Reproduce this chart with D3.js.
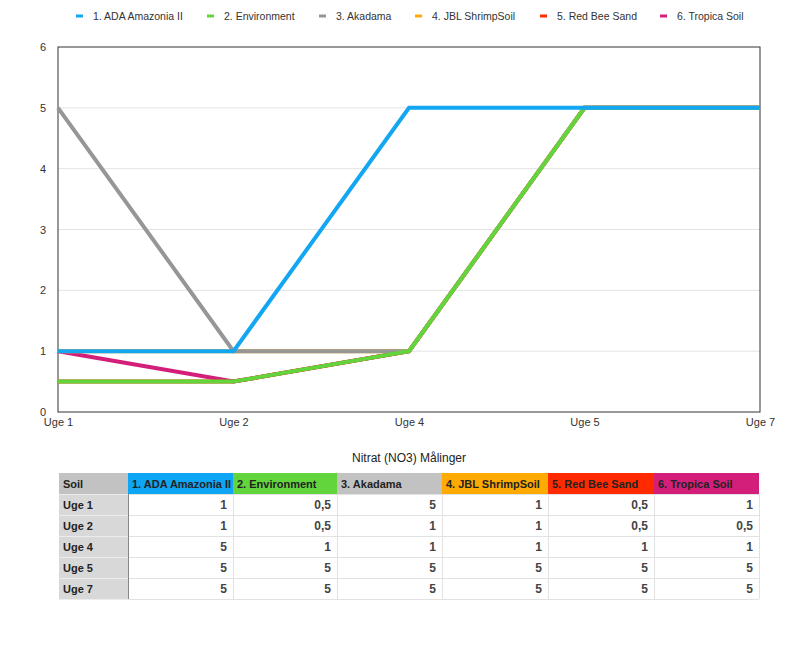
<!DOCTYPE html>
<html><head><meta charset="utf-8">
<script src="https://cdn.jsdelivr.net/npm/d3@7"></script>
<style>body{margin:0;background:#fff;font-family:"Liberation Sans",Arial,sans-serif}</style>
</head><body><svg id="c" width="800" height="651"></svg>
<script>
const categories = ["Uge 1","Uge 2","Uge 4","Uge 5","Uge 7"];
const seriesNames = ["1. ADA Amazonia II","2. Environment","3. Akadama","4. JBL ShrimpSoil","5. Red Bee Sand","6. Tropica Soil"];
const seriesColors = ["#13A6F2","#62D43C","#969696","#FFAA00","#FF2A00","#D41F7A"];
const ada = [1,1,5,5,5];
const environment = [0.5,0.5,1,5,5];
const akadama = [5,1,1,5,5];
const jbl = [1,1,1,5,5];
const redBee = [0.5,0.5,1,5,5];
const tropica = [1,0.5,1,5,5];
const yTicks = [0,1,2,3,4,5,6];
const tableTitle = "Nitrat (NO3) Målinger";
const allSeries = [ada, environment, akadama, jbl, redBee, tropica];

const svg = d3.select("#c");
const pL = 58, pR = 760, pT = 47, pB = 412;
const x = d3.scalePoint().domain(categories).range([pL, pR]).padding(0);
const y = d3.scaleLinear().domain([0,6]).range([pB, pT]);

// gridlines
svg.append("g").selectAll("line").data(yTicks.filter(d=>d>0 && d<6)).join("line")
  .attr("x1", pL).attr("x2", pR).attr("y1", d=>y(d)).attr("y2", d=>y(d))
  .attr("stroke", "#e3e3e3").attr("stroke-width", 1);

// frame
svg.append("rect").attr("x", pL).attr("y", pT).attr("width", pR-pL).attr("height", pB-pT)
  .attr("fill","none").attr("stroke","#333").attr("stroke-width",1);

// y axis labels
const ya = svg.append("g").attr("transform", `translate(${pL},0)`)
  .call(d3.axisLeft(y).tickValues(yTicks).tickSize(0).tickPadding(12).tickFormat(d3.format("d")));
ya.select(".domain").remove();
ya.selectAll("text").attr("font-size", 11).attr("fill","#333").attr("font-family","Liberation Sans, Arial, sans-serif");

// x axis labels
const xa = svg.append("g").attr("transform", `translate(0,${pB})`)
  .call(d3.axisBottom(x).tickSize(0).tickPadding(6));
xa.select(".domain").remove();
xa.selectAll("text").attr("font-size", 11).attr("fill","#333").attr("font-family","Liberation Sans, Arial, sans-serif");

// lines (drawn in reverse so series 1 is on top)
const line = d3.line().x((d,i)=>x(categories[i])).y(d=>y(d));
const order = d3.range(allSeries.length).reverse();
svg.append("g").selectAll("path").data(order).join("path")
  .attr("d", i=>line(allSeries[i])).attr("fill","none")
  .attr("stroke", i=>seriesColors[i]).attr("stroke-width", 4)
  .attr("stroke-linejoin","miter").attr("stroke-linecap","butt");

// legend
const legX = [76, 207, 319, 415, 540, 660];
const lg = svg.append("g").selectAll("g").data(seriesNames).join("g")
  .attr("transform", (d,i)=>`translate(${legX[i]},16)`);
lg.append("line").attr("x1",0).attr("x2",7).attr("y1",0).attr("y2",0)
  .attr("stroke",(d,i)=>seriesColors[i]).attr("stroke-width",3);
lg.append("text").attr("x",17).attr("y",4).attr("font-size",10.5).attr("fill","#333").text(d=>d);

// table title
svg.append("text").attr("x", 409).attr("y", 462).attr("text-anchor","middle")
  .attr("font-size", 12).attr("fill","#222").text(tableTitle);

// table
const colX = [59,128,233,337,442,548,654,759];
const rowY = [473,494,515,536,557,578,599];
const headerColors = ["#C2C2C2","#0FA5F5","#62D43C","#C2C2C2","#FFAA00","#FF2A00","#D41F7A"];
const headers = ["Soil"].concat(seriesNames);
const tg = svg.append("g");
headers.forEach((h,j)=>{
  tg.append("rect").attr("x",colX[j]).attr("y",rowY[0]).attr("width",colX[j+1]-colX[j]).attr("height",rowY[1]-rowY[0]).attr("fill",headerColors[j]);
  tg.append("text").attr("x",colX[j]+4).attr("y",rowY[0]+15).attr("font-size",11).attr("font-weight","bold").attr("fill","#222").text(h);
});
categories.forEach((c,r)=>{
  const y0 = rowY[r+1], y1 = rowY[r+2];
  tg.append("rect").attr("x",colX[0]).attr("y",y0).attr("width",colX[1]-colX[0]).attr("height",y1-y0).attr("fill","#D8D8D8");
  tg.append("text").attr("x",colX[0]+4).attr("y",y0+15).attr("font-size",11).attr("font-weight","bold").attr("fill","#222").text(c);
  allSeries.forEach((s,j)=>{
    tg.append("text").attr("x",colX[j+2]-6).attr("y",y0+15).attr("text-anchor","end")
      .attr("font-size",12).attr("font-weight","bold").attr("fill","#444")
      .text(String(s[r]).replace(".",","));
  });
});
for (let r=1;r<rowY.length;r++){
  tg.append("line").attr("x1",colX[1]).attr("x2",colX[7]).attr("y1",rowY[r]+0.5).attr("y2",rowY[r]+0.5).attr("stroke","#e2e2e2");
  tg.append("line").attr("x1",colX[0]).attr("x2",colX[1]).attr("y1",rowY[r]+0.5).attr("y2",rowY[r]+0.5).attr("stroke","#ececec");
}
for (let j=2;j<colX.length;j++){
  tg.append("line").attr("x1",colX[j]+0.5).attr("x2",colX[j]+0.5).attr("y1",rowY[1]).attr("y2",rowY[6]).attr("stroke","#e2e2e2");
}
tg.append("line").attr("x1",colX[1]+0.5).attr("x2",colX[1]+0.5).attr("y1",rowY[1]).attr("y2",rowY[6]).attr("stroke","#888");
</script></body></html>
